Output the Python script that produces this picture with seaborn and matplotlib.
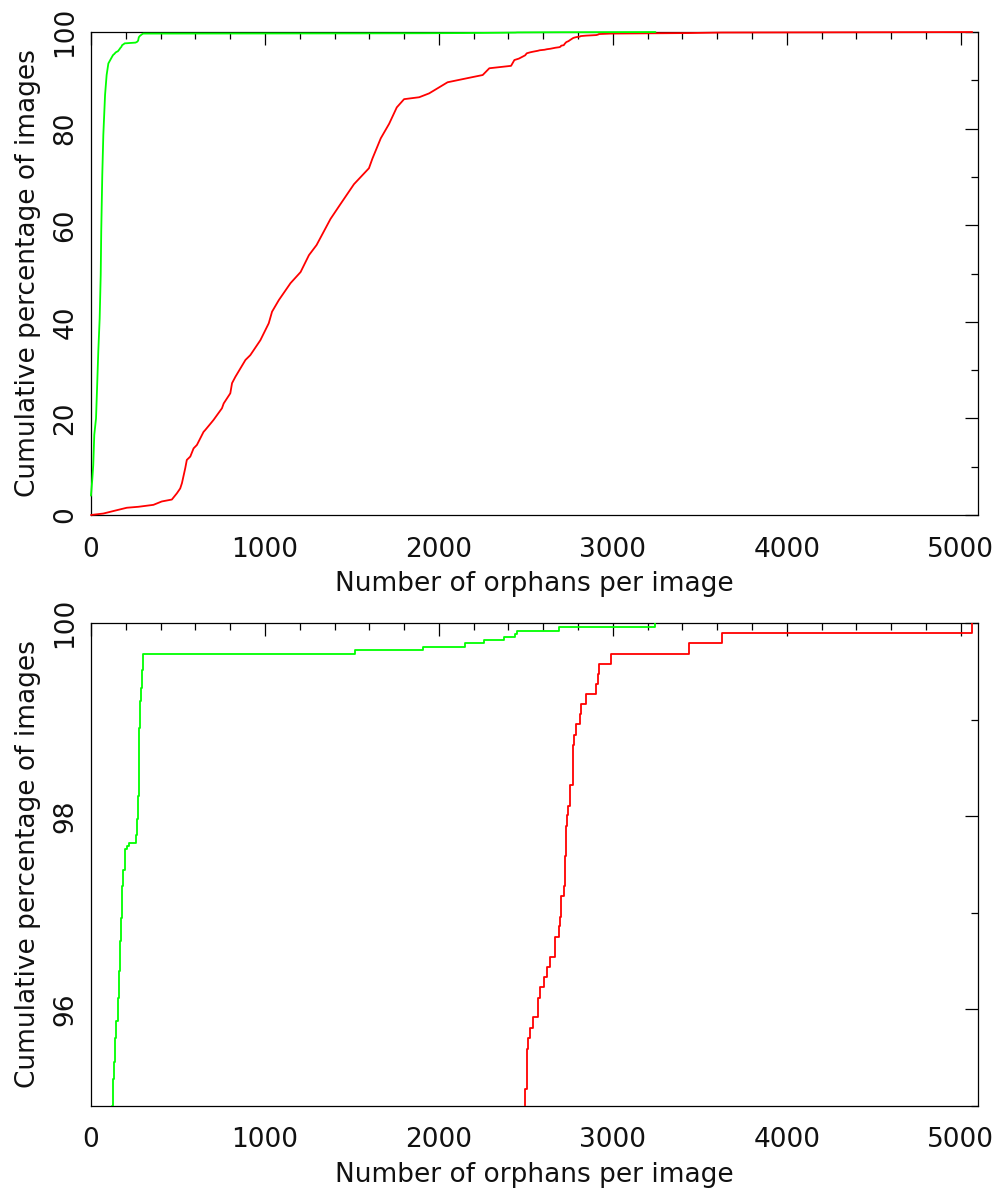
import numpy as np
import pandas as pd
import matplotlib
matplotlib.use("Agg")
import matplotlib.pyplot as plt
import seaborn as sns
from matplotlib.ticker import MultipleLocator

# ---- data: cumulative percentage of images vs number of orphans ----
red_orphans = [0, 71, 138, 206, 273, 359, 407, 465, 494, 513, 523, 542, 551, 571,
               590, 609, 647, 657, 696, 705, 753, 763, 801, 811, 830, 888, 916,
               974, 1022, 1041, 1080, 1147, 1205, 1253, 1297, 1377, 1431, 1512,
               1598, 1618, 1666, 1714, 1758, 1800, 1887, 1944, 2050, 2184, 2252,
               2290, 2415, 2434, 2460, 2496, 2505, 2515, 2526, 2540, 2569, 2580,
               2607, 2621, 2641, 2670, 2692, 2699, 2703, 2718, 2724, 2732, 2738,
               2745, 2753, 2771, 2778, 2790, 2811, 2815, 2847, 2905, 2915, 2920,
               2988, 3437, 3625, 5066]
red_cumpct = [0.0, 0.3, 0.9, 1.5, 1.7, 2.1, 2.8, 3.2, 4.5, 5.5, 6.6, 9.7, 11.4, 12.1,
              13.8, 14.5, 17.2, 17.6, 19.3, 19.7, 22.1, 23.1, 25.2, 27.3, 28.6, 32.1,
              33.1, 36.2, 39.7, 42.1, 44.5, 48.0, 50.3, 53.8, 55.9, 61.3, 64.2, 68.5,
              71.8, 73.8, 78.0, 81.0, 84.4, 86.1, 86.5, 87.3, 89.6, 90.6, 91.1,
              92.5, 93.0, 94.2, 94.5, 95.18, 95.59, 95.70, 95.81, 95.92, 96.12, 96.23,
              96.33, 96.44, 96.54, 96.75, 96.86, 96.96, 97.17, 97.28, 97.59, 97.90, 98.01,
              98.11, 98.32, 98.74, 98.84, 98.95, 99.06, 99.16, 99.26, 99.37, 99.47, 99.58,
              99.68, 99.79, 99.90, 100.0]

green_orphans = [0, 8, 13, 19, 29, 35, 42, 50, 56, 59, 65, 71, 81, 90, 100, 123,
                 128, 134, 140, 146, 154, 157, 163, 169, 175, 179, 186, 194, 209,
                 219, 256, 265, 271, 275, 281, 286, 292, 300, 1520, 1907, 2150,
                 2257, 2373, 2440, 2450, 2690, 3245]
green_cumpct = [4.0, 7.6, 10.3, 16.6, 20.0, 26.2, 33.8, 40.7, 49.7, 58.7, 70.4, 78.7,
                87.0, 91.1, 93.5, 95.0, 95.28, 95.45, 95.70, 95.88, 96.00, 96.12, 96.40,
                96.71, 96.95, 97.28, 97.44, 97.66, 97.69, 97.72, 97.81, 97.97, 98.21,
                98.91, 99.19, 99.33, 99.51, 99.68, 99.72, 99.75, 99.79, 99.82, 99.86,
                99.89, 99.92, 99.96, 100.0]

x_ticks = [0, 1000, 2000, 3000, 4000, 5000]
top_yticks = [0, 20, 40, 60, 80, 100]
bottom_yticks = [96, 98, 100]
x_label = "Number of orphans per image"
y_label = "Cumulative percentage of images"

red_df = pd.DataFrame({"orphans": red_orphans, "pct": red_cumpct})
green_df = pd.DataFrame({"orphans": green_orphans, "pct": green_cumpct})

sns.set_theme(style="white")
plt.rcParams["font.family"] = ["DejaVu Sans"]
plt.rcParams["axes.edgecolor"] = "black"
plt.rcParams["axes.linewidth"] = 0.9

fig = plt.figure(figsize=(10.03, 11.91), dpi=100)
ax_top = fig.add_axes([0.0907, 0.5676, 0.8845, 0.4055])
ax_bot = fig.add_axes([0.0907, 0.0714, 0.8845, 0.4055])

RED = "#ff0000"
GREEN = "#00ff00"
FS = 19

def style_axis(ax, ylim, yticks, yminor):
    ax.set_xlim(0, 5100)
    ax.set_ylim(*ylim)
    ax.set_xticks(x_ticks)
    ax.set_yticks(yticks)
    ax.xaxis.set_minor_locator(MultipleLocator(200))
    ax.yaxis.set_minor_locator(MultipleLocator(yminor))
    ax.tick_params(which="both", direction="in", top=True, right=True,
                   color="black", width=0.9)
    ax.tick_params(which="major", length=9.5)
    ax.tick_params(which="minor", length=5)
    ax.tick_params(axis="x", labelsize=FS, pad=15.5, labelcolor="#111111")
    ax.tick_params(axis="y", labelsize=FS, pad=9, labelrotation=90,
                   labelcolor="#111111")
    for lab in ax.get_yticklabels():
        lab.set_va("center")
    ax.set_xlabel(x_label, fontsize=FS, labelpad=6, color="#111111")
    ax.set_ylabel(y_label, fontsize=FS, labelpad=8, color="#111111")
    for s in ax.spines.values():
        s.set_visible(True)
        s.set_color("black")
        s.set_linewidth(0.9)

# top panel: full range
sns.lineplot(data=red_df, x="orphans", y="pct", ax=ax_top, color=RED,
             estimator=None, sort=False, linewidth=1.3, zorder=3, legend=False)
sns.lineplot(data=green_df, x="orphans", y="pct", ax=ax_top, color=GREEN,
             estimator=None, sort=False, linewidth=1.3, zorder=3, legend=False)
style_axis(ax_top, (0, 100), top_yticks, 10)

# bottom panel: zoom on the top 5 %
sns.lineplot(data=green_df, x="orphans", y="pct", ax=ax_bot, color=GREEN,
             estimator=None, sort=False, linewidth=1.3, zorder=3, legend=False,
             drawstyle="steps-post")
sns.lineplot(data=red_df, x="orphans", y="pct", ax=ax_bot, color=RED,
             estimator=None, sort=False, linewidth=1.3, zorder=3, legend=False,
             drawstyle="steps-post")
style_axis(ax_bot, (95, 100), bottom_yticks, 1)

for ax in (ax_top, ax_bot):
    for line in ax.get_lines():
        line.set_clip_on(ax is ax_bot)

fig.savefig("out.png", dpi=100, facecolor="white")
